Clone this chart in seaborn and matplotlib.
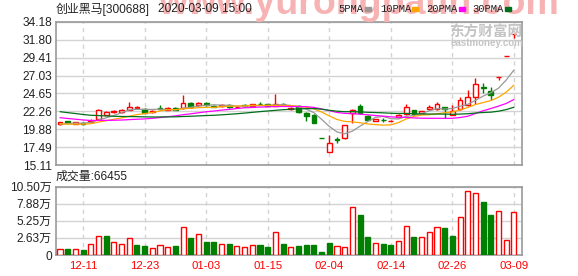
import numpy as np
import pandas as pd
import matplotlib
matplotlib.use("Agg")
import matplotlib.pyplot as plt
from matplotlib.patches import Rectangle
import seaborn as sns

# ---------------- data ----------------
dates = ["12-06", "12-09", "12-10", "12-11", "12-12", "12-13", "12-16", "12-17", "12-18", "12-19",
         "12-20", "12-23", "12-24", "12-25", "12-26", "12-27", "12-30", "12-31", "01-02", "01-03",
         "01-06", "01-07", "01-08", "01-09", "01-10", "01-13", "01-14", "01-15", "01-16", "01-17",
         "01-20", "01-21", "01-22", "01-23", "02-03", "02-04", "02-05", "02-06", "02-07", "02-10",
         "02-11", "02-12", "02-13", "02-14", "02-17", "02-18", "02-19", "02-20", "02-21", "02-24",
         "02-25", "02-26", "02-27", "02-28", "03-02", "03-03", "03-04", "03-05", "03-06", "03-09"]

opens = [20.55, 20.98, 20.62, 20.72, 20.82, 21.25, 21.80, 22.20, 22.20, 22.50,
         22.70, 22.60, 22.15, 22.65, 22.50, 22.72, 22.65, 23.40, 23.10, 23.40,
         23.00, 22.95, 23.13, 22.82, 23.15, 22.98, 23.30, 23.22, 23.00, 23.30,
         22.55, 23.00, 22.10, 21.80, 18.69, 16.85, 18.56, 18.65, 22.10, 23.00,
         21.70, 21.02, 21.15, 20.98, 21.47, 21.87, 22.45, 22.00, 22.53, 22.58,
         22.80, 21.80, 22.53, 23.05, 24.13, 25.50, 24.98, 26.90, 29.60, 32.55]
highs = [20.85, 21.02, 20.90, 20.78, 21.20, 22.58, 22.30, 22.45, 22.55, 23.48,
         22.97, 22.75, 22.40, 23.10, 22.78, 22.78, 24.48, 23.45, 23.55, 23.50,
         23.05, 23.18, 23.18, 22.95, 23.20, 23.28, 23.45, 23.26, 24.58, 23.42,
         22.80, 23.05, 22.15, 21.87, 18.69, 19.10, 18.89, 20.50, 22.60, 23.30,
         21.75, 21.30, 21.35, 21.05, 21.87, 23.24, 22.50, 22.35, 23.11, 23.56,
         22.85, 23.11, 24.13, 25.10, 26.67, 26.09, 25.56, 26.90, 29.60, 32.55]
lows = [20.50, 20.68, 20.58, 20.48, 20.70, 21.20, 21.75, 22.10, 22.10, 22.45,
        22.65, 22.00, 22.10, 22.50, 22.45, 22.40, 22.60, 22.70, 23.00, 23.00,
        22.78, 22.90, 22.75, 22.78, 22.90, 22.95, 23.20, 22.95, 22.95, 22.95,
        22.50, 22.10, 21.00, 20.67, 18.67, 16.80, 18.09, 18.55, 20.70, 21.90,
        21.05, 20.95, 20.85, 20.95, 21.42, 21.80, 21.80, 21.95, 22.45, 22.50,
        21.40, 21.75, 22.45, 22.95, 23.25, 24.67, 23.78, 26.40, 29.60, 32.10]
closes = [20.78, 20.72, 20.84, 20.55, 21.02, 22.45, 22.15, 22.35, 22.45, 22.90,
          22.85, 22.10, 22.30, 22.60, 22.72, 22.45, 23.40, 22.90, 23.42, 23.15,
          22.85, 23.13, 22.80, 22.90, 22.95, 23.25, 23.22, 23.00, 23.20, 23.10,
          22.75, 22.15, 21.70, 20.75, 18.67, 18.00, 18.50, 20.45, 22.50, 22.00,
          21.10, 21.24, 21.08, 21.02, 21.82, 22.80, 21.87, 22.31, 22.89, 23.24,
          22.53, 22.30, 23.78, 24.17, 25.87, 25.40, 24.45, 26.90, 29.60, 32.55]
# closes of the 29 sessions before the first shown one (for the moving averages)
hist_closes = [24.6, 24.3, 24.5, 24.0, 23.8, 23.6, 23.5, 23.4, 23.3, 23.2,
               22.9, 22.7, 22.6, 22.4, 22.2, 22.1, 22.0, 21.9, 21.8, 21.8,
               21.2, 20.8, 20.6, 20.4, 20.25, 20.3, 20.5, 20.6, 20.57]
# volume in units of 万 (10,000)
volume = [0.92, 0.97, 0.92, 0.82, 1.67, 2.87, 2.92, 2.02, 1.72, 2.57,
          1.57, 1.42, 1.07, 1.52, 1.22, 1.42, 4.22, 2.62, 3.17, 2.02,
          2.02, 1.72, 1.72, 1.37, 1.22, 1.52, 1.57, 1.27, 3.52, 1.72,
          1.22, 1.42, 1.57, 1.57, 0.52, 1.87, 1.37, 1.22, 7.37, 6.07,
          2.77, 1.82, 1.72, 1.57, 2.12, 4.37, 2.77, 2.72, 3.47, 4.22,
          4.12, 2.92, 5.87, 9.77, 9.47, 8.17, 6.07, 6.77, 2.27, 6.6455]
vol_up = [1, 0, 1, 0, 1, 1, 0, 1, 1, 1, 0, 0, 1, 1, 1, 0, 1, 0, 1, 0,
          0, 1, 0, 1, 1, 1, 0, 0, 1, 0, 1, 0, 0, 0, 0, 0, 1, 1, 1, 0,
          0, 1, 0, 0, 1, 1, 0, 1, 1, 1, 0, 0, 1, 1, 1, 0, 0, 1, 1, 1]

price_ticks = [15.11, 17.49, 19.88, 22.26, 24.65, 27.03, 29.41, 31.80, 34.18]
price_labels = ["15.11", "17.49", "19.88", "22.26", "24.65", "27.03", "29.41", "31.80", "34.18"]
vol_ticks = [0, 2.63, 5.25, 7.88, 10.50]
vol_labels = ["0", "2.63万", "5.25万", "7.88万", "10.50万"]
date_tick_idx = [3, 11, 19, 27, 35, 43, 51, 59]
ma_periods = [5, 10, 20, 30]
ma_names = ["5PMA", "10PMA", "20PMA", "30PMA"]
ma_colors = ["#999999", "#ffa500", "#ff00ff", "#006f1c"]

title_name = "创业黑马[300688]"
title_time = "2020-03-09 15:00"
vol_title = "成交量:66455"

# ---------------- style ----------------
sns.set_theme(style="white")
plt.rcParams["font.family"] = ["Liberation Sans", "Noto Sans CJK SC", "DejaVu Sans"]

RED = "#ff0000"
GREEN = "#008000"
GRID = "#d3d3d3"
FRAME = "#999999"

W, H = 578, 276
fig = plt.figure(figsize=(W / 100, H / 100), dpi=100)
L, R = 56, 522
axp = fig.add_axes([L / W, 1 - 165 / H, (R - L) / W, 143 / H])
axv = fig.add_axes([L / W, 1 - 255 / H, (R - L) / W, 68.5 / H])

n = len(closes)
x = np.arange(n)
o = np.array(opens); c = np.array(closes); hi = np.array(highs); lo = np.array(lows)
up = c >= o
cols = [RED if u else GREEN for u in up]

# ---------------- price panel ----------------
axp.vlines(x, lo, hi, colors=cols, linewidth=1, zorder=3)
axp.bar(x, np.abs(c - o), bottom=np.minimum(o, c), width=0.62,
        color=["white" if u else GREEN for u in up], edgecolor=cols,
        linewidth=1, zorder=4)

allc = pd.Series(hist_closes + closes)
ma_df = pd.DataFrame({"x": x})
for p, name in zip(ma_periods, ma_names):
    ma_df[name] = allc.rolling(p).mean().iloc[-n:].to_numpy()
ma_long = ma_df.melt(id_vars="x", var_name="ma", value_name="val")
sns.lineplot(data=ma_long, x="x", y="val", hue="ma", hue_order=ma_names,
             palette=dict(zip(ma_names, ma_colors)), linewidth=0.9,
             legend=False, ax=axp, zorder=5)

axp.set_xlim(-0.52, n + 0.05)
axp.set_ylim(price_ticks[0], price_ticks[-1])
axp.set_yticks(price_ticks)
axp.set_yticklabels(price_labels)
axp.set_xticks([])
axp.set_xlabel(""); axp.set_ylabel("")
axp.yaxis.grid(True, color=GRID, linewidth=1, linestyle="-")
axp.set_axisbelow(True)
for i in date_tick_idx:
    axp.axvline(i, color=GRID, linewidth=1, linestyle=(0, (3, 3)), zorder=0.5)
axp.tick_params(axis="y", length=0, pad=3, labelsize=8.6, labelcolor="#222222")

# ---------------- volume panel ----------------
vdf = pd.DataFrame({"x": x, "vol": volume,
                    "dir": ["up" if v else "down" for v in vol_up]})
sns.barplot(data=vdf, x="x", y="vol", hue="dir", hue_order=["up", "down"],
            palette={"up": "white", "down": GREEN}, native_scale=True,
            width=0.66, dodge=False, legend=False, errorbar=None,
            saturation=1, ax=axv, zorder=3)
for patch in axv.patches:
    idx = int(round(patch.get_x() + patch.get_width() / 2))
    if 0 <= idx < n:
        if vol_up[idx]:
            patch.set_facecolor("white"); patch.set_edgecolor(RED)
        else:
            patch.set_facecolor(GREEN); patch.set_edgecolor(GREEN)
        patch.set_linewidth(1)

axv.set_xlim(-0.52, n + 0.05)
axv.set_ylim(0, 10.5)
axv.set_yticks(vol_ticks)
axv.set_yticklabels(vol_labels)
axv.set_xticks(date_tick_idx)
axv.set_xticklabels([dates[i] for i in date_tick_idx])
axv.set_xlabel(""); axv.set_ylabel("")
axv.yaxis.grid(True, color=GRID, linewidth=1, linestyle="-")
axv.set_axisbelow(True)
for i in date_tick_idx:
    axv.axvline(i, color=GRID, linewidth=1, linestyle=(0, (3, 3)), zorder=0.5)
axv.tick_params(axis="y", length=0, pad=3, labelsize=8.6, labelcolor="#222222")
axv.tick_params(axis="x", length=0, pad=4, labelsize=8.2, labelcolor=RED)

for ax in (axp, axv):
    for s in ax.spines.values():
        s.set_color(FRAME)
        s.set_linewidth(1.2)

# ---------------- texts ----------------
fig.text(158 / W, 1 - 14 / H, "www.yurongpaun.com", fontsize=27, color="#f7b3b3",
         ha="left", va="baseline", fontweight="bold", zorder=0,
         family=["Liberation Sans", "DejaVu Sans"])
fig.text(56 / W, 1 - 9 / H, title_name, fontsize=8.6, color="#222222",
         ha="left", va="center", zorder=2)
fig.text(158 / W, 1 - 9 / H, title_time, fontsize=8.6, color="#222222",
         ha="left", va="center", zorder=2)

leg_text_x = [338, 380, 426, 472]
leg_mark_x = [365, 412, 459, 505]
for name, col, tx, mx in zip(ma_names, ma_colors, leg_text_x, leg_mark_x):
    fig.text(tx / W, 1 - 9 / H, name, fontsize=7.6, color="#222222", ha="left",
             va="center", family=["Liberation Mono", "DejaVu Sans Mono"], zorder=2)
    fig.patches.append(Rectangle((mx / W, 1 - 10.5 / H), 6 / W, 3 / H,
                                 transform=fig.transFigure, color=col, zorder=2))

fig.text(486 / W, 1 - 32 / H, "东方财富网", fontsize=10.5, color="#c4c4c4",
         ha="center", va="center", fontweight="bold",
         family=["Noto Sans CJK SC"], zorder=2)
fig.text(487 / W, 1 - 43.5 / H, "eastmoney.com", fontsize=7, color="#c4c4c4",
         ha="center", va="center", fontweight="bold", zorder=2)

fig.text(56 / W, 1 - 177 / H, vol_title, fontsize=8.6, color="#222222",
         ha="left", va="center")

fig.savefig("out.png", dpi=100)
